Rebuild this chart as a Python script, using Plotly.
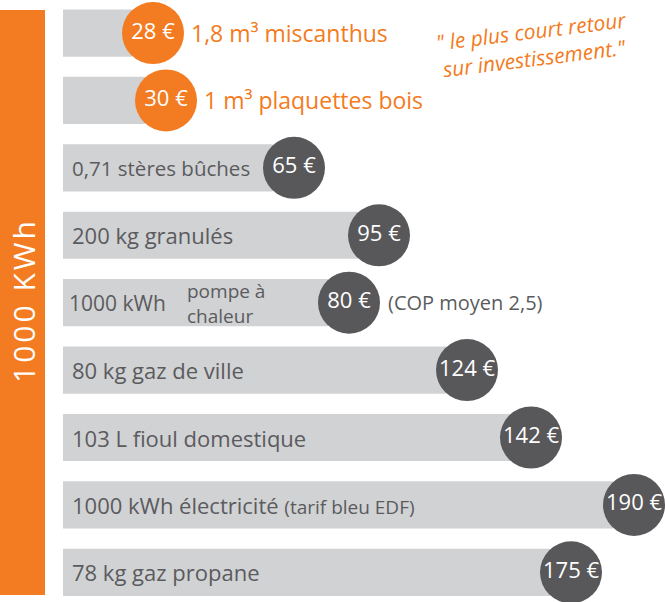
import plotly.graph_objects as go

# ---- data ----
fuels = ["miscanthus", "plaquettes", "buches", "granules", "pac",
         "gaz_ville", "fioul", "electricite", "propane"]
labels = ["1,8 m³ miscanthus", "1 m³ plaquettes bois", "0,71 stères bûches",
          "200 kg granulés", "1000 kWh", "80 kg gaz de ville",
          "103 L fioul domestique",
          "1000 kWh électricité <span style='font-size:19px'>(tarif bleu EDF)</span>",
          "78 kg gaz propane"]
prices = [28, 30, 65, 95, 80, 124, 142, 190, 175]
bar_lengths = [69, 82, 210, 295, 265, 383, 447, 550, 487]
highlight = [True, True, False, False, False, False, False, False, False]

ORANGE = "#F37B21"
DARK = "#58585B"
BAR_GREY = "#D1D2D4"
TEXT_GREY = "#5B5B5E"
FONT = "Open Sans"

circle_x = [v + 21 for v in bar_lengths]
circle_colors = [ORANGE if h else DARK for h in highlight]

fig = go.Figure()
fig.add_trace(go.Bar(
    y=fuels, x=bar_lengths, orientation="h", width=0.70,
    marker=dict(color=BAR_GREY, line_width=0), hoverinfo="skip"))
fig.add_trace(go.Scatter(
    y=fuels, x=circle_x, mode="markers+text",
    marker=dict(size=62, color=circle_colors, line_width=0),
    text=[f"{p} €" for p in prices], textposition="middle center",
    textfont=dict(color="white", size=22, family=FONT), hoverinfo="skip"))

annotations = []
for i, f in enumerate(fuels):
    if highlight[i]:
        annotations.append(dict(x=circle_x[i] + 36, y=f, text=labels[i],
                                xanchor="left", showarrow=False,
                                font=dict(color=ORANGE, size=23, family=FONT)))
    elif f == "pac":
        annotations.append(dict(x=4, y=f, text=labels[i], xanchor="left",
                                showarrow=False,
                                font=dict(color=TEXT_GREY, size=21, family=FONT)))
    else:
        size = 20.5 if f == "buches" else 22
        annotations.append(dict(x=7, y=f, text=labels[i], xanchor="left",
                                showarrow=False,
                                font=dict(color=TEXT_GREY, size=size, family=FONT)))

annotations.append(dict(x=122, y="pac", text="pompe à<br>chaleur", xanchor="left",
                        showarrow=False, align="left", yshift=-1,
                        font=dict(color=TEXT_GREY, size=19, family=FONT)))
annotations.append(dict(x=circle_x[4] + 37, y="pac", text="(COP moyen 2,5)",
                        xanchor="left", showarrow=False,
                        font=dict(color=TEXT_GREY, size=20, family=FONT)))
annotations.append(dict(xref="paper", yref="paper", x=532 / 665, y=1 - 45 / 602,
                        xanchor="center", yanchor="middle",
                        text="<i>\" le plus court retour<br>sur investissement.\"</i>",
                        textangle=-7, showarrow=False, align="center",
                        font=dict(color=ORANGE, size=21, family=FONT)))
annotations.append(dict(xref="paper", yref="paper", x=23 / 665, y=1 - 302 / 602,
                        xanchor="center", yanchor="middle",
                        text="\u200a".join("1000 KWh"), textangle=-90, showarrow=False,
                        font=dict(color="white", size=30, family=FONT)))

fig.update_layout(
    width=665, height=602,
    margin=dict(l=0, r=0, t=0, b=0),
    paper_bgcolor="white", plot_bgcolor="white",
    showlegend=False,
    xaxis=dict(range=[-63, 602], visible=False, fixedrange=True),
    yaxis=dict(type="category", categoryorder="array", categoryarray=fuels,
               range=[8.44, -0.49], visible=False, fixedrange=True),
    annotations=annotations,
    shapes=[dict(type="rect", xref="paper", yref="paper",
                 x0=0, x1=45 / 665, y0=1 - 595 / 602, y1=1 - 10 / 602,
                 fillcolor=ORANGE, line_width=0, layer="below")],
)

fig.write_html("out.html", config={"displayModeBar": False},
               post_script="document.body.style.margin='0px';document.body.style.overflow='hidden';")
